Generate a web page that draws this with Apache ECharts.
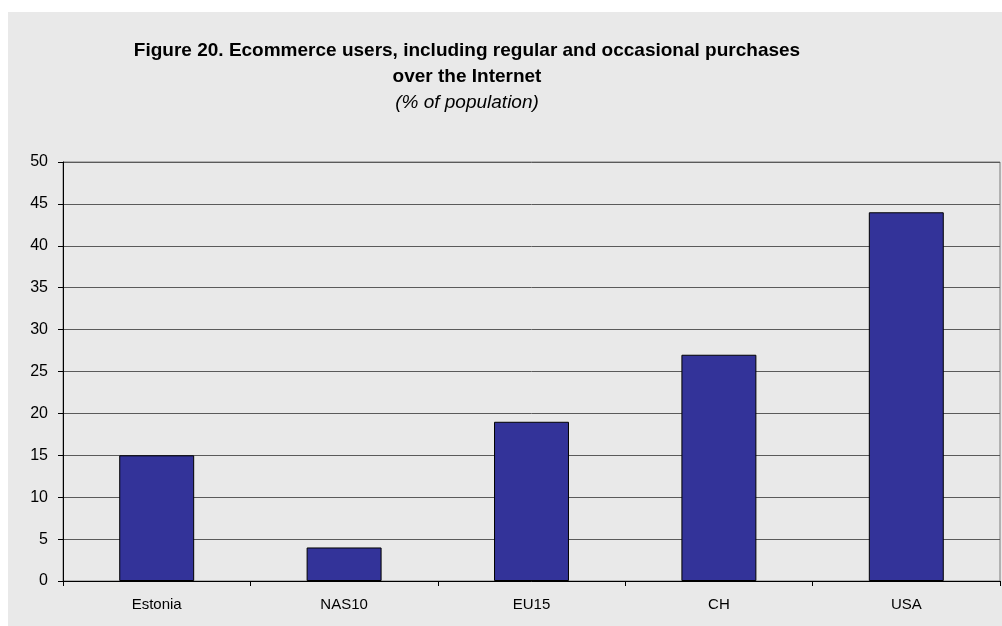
<!DOCTYPE html>
<html>
<head>
<meta charset="utf-8">
<title>Ecommerce users</title>
<script src="https://cdn.jsdelivr.net/npm/echarts@6/dist/echarts.min.js"></script>
<style>
  html, body { margin: 0; padding: 0; background: #ffffff; }
  #chart { width: 1002px; height: 626px; }
</style>
</head>
<body>
<div id="chart"></div>
<script>
// Country groups on the category axis
var categories = ['Estonia', 'NAS10', 'EU15', 'CH', 'USA'];
// Share of population buying over the Internet (%)
var users = [15, 4, 19, 27, 44];
// Value axis range
var yMin = 0, yMax = 50, yStep = 5;
// Heading lines
var titleLines = ['Figure 20. Ecommerce users, including regular and occasional purchases', 'over the Internet'];
var subtitle = '(% of population)';

var FONT = 'Liberation Sans, Arial, sans-serif';
var titleX = 467;

var chart = echarts.init(document.getElementById('chart'));
chart.setOption({
  animation: false,
  backgroundColor: '#ffffff',
  graphic: [
    {
      type: 'rect',
      left: 8, top: 12,
      shape: { width: 994, height: 614 },
      style: { fill: '#e9e9e9' },
      z: -10
    },
    {
      type: 'text', x: titleX, y: 51,
      style: { text: titleLines[0], textAlign: 'center', textVerticalAlign: 'middle',
               fill: '#000', fontFamily: FONT, fontWeight: 'bold', fontSize: 19 }
    },
    {
      type: 'text', x: titleX, y: 77,
      style: { text: titleLines[1], textAlign: 'center', textVerticalAlign: 'middle',
               fill: '#000', fontFamily: FONT, fontWeight: 'bold', fontSize: 19 }
    },
    {
      type: 'text', x: titleX, y: 103,
      style: { text: subtitle, textAlign: 'center', textVerticalAlign: 'middle',
               fill: '#000', fontFamily: FONT, fontStyle: 'italic', fontSize: 19 }
    }
  ],
  grid: {
    left: 63, right: 2, top: 162, bottom: 45,
    show: true, borderColor: '#7a7a7a', borderWidth: 1,
    backgroundColor: 'transparent'
  },
  xAxis: {
    type: 'category',
    data: categories,
    axisLine: { lineStyle: { color: '#000', width: 1 } },
    axisTick: { show: true, alignWithLabel: false, length: 5, lineStyle: { color: '#000' } },
    axisLabel: { color: '#000', fontSize: 15, margin: 16, fontFamily: FONT }
  },
  yAxis: {
    type: 'value',
    min: yMin, max: yMax, interval: yStep,
    axisLine: { show: true, lineStyle: { color: '#000', width: 1 } },
    axisTick: { show: true, length: 5, lineStyle: { color: '#000' } },
    axisLabel: { color: '#000', fontSize: 16, margin: 15, fontFamily: FONT },
    splitLine: { show: true, lineStyle: { color: '#5a5a5a', width: 1 } }
  },
  series: [{
    type: 'bar',
    data: users,
    barWidth: '40%',
    itemStyle: { color: '#333399', borderColor: '#000', borderWidth: 1 }
  }]
});
</script>
</body>
</html>
